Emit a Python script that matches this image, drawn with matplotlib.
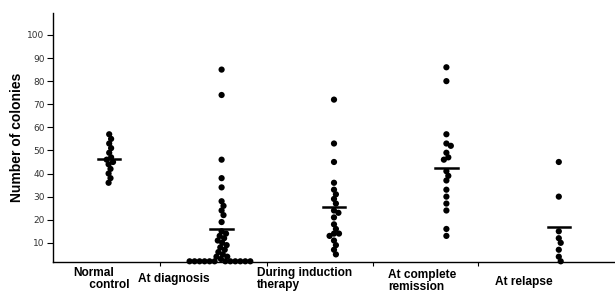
import numpy as np
import matplotlib
matplotlib.use("Agg")
import matplotlib.pyplot as plt

# values (Number of colonies)
normal = [57, 55, 53, 51, 49, 47, 46, 45, 44, 42, 40, 38, 36]
diagnosis = [85, 74, 46, 38, 34, 28, 26, 24, 22, 19, 15, 14, 13, 12, 11, 10, 9, 8, 7, 6, 5, 4, 4, 3,
             2, 2, 2, 2, 2, 2, 2, 2, 2, 2, 2, 2]
induction = [72, 53, 45, 36, 33, 31, 29, 27, 24, 23, 21, 18, 16, 14, 14, 13, 11, 9, 7, 5]
remission = [86, 80, 57, 53, 52, 49, 47, 46, 41, 39, 37, 33, 30, 27, 24, 16, 13]
relapse = [45, 30, 15, 12, 10, 7, 4, 2]

groups = [normal, diagnosis, induction, remission, relapse]
means = [46.5, 16, 25.5, 42.5, 17]
labels = ["Normal\n     control", "At diagnosis", "During induction\ntherapy",
          "At complete\nremission", "At relapse"]
yticks = [10, 20, 30, 40, 50, 60, 70, 80, 90, 100]


def swarm(values, xscale, yscale, d=5.0):
    # simple beeswarm in pixel space, returns x offsets in data units
    placed = []
    offs = []
    for v in values:
        y = v * yscale
        cands = [0.0]
        for (px, py) in placed:
            dy = abs(py - y)
            if dy < d:
                dx = np.sqrt(d * d - dy * dy)
                cands += [px + dx, px - dx]
        cands.sort(key=abs)
        for c in cands:
            ok = all((c - px) ** 2 + (y - py) ** 2 >= d * d - 1e-6 for (px, py) in placed)
            if ok:
                break
        placed.append((c, y))
        offs.append(c / xscale)
    return offs


fig = plt.figure(figsize=(6.15, 3.06), dpi=100)
ax = fig.add_axes([53 / 615, 1 - 262 / 306, 1 - 53 / 615, (262 - 13) / 306])
ax.set_xlim(0.5, 5.5)
ax.set_ylim(1.7, 109.5)

# pixels per data unit
xscale = 112.5
yscale = 249 / (109.5 - 1.7)

for i, vals in enumerate(groups):
    xs = [i + 1 + o for o in swarm(vals, xscale, yscale)]
    ax.scatter(xs, vals, s=20, color="black", edgecolors="none", clip_on=False, zorder=3)
    ax.plot([i + 1 - 0.1, i + 1 + 0.1], [means[i], means[i]], color="black", lw=1.8, zorder=4)

ax.spines["top"].set_visible(False)
ax.spines["right"].set_visible(False)
ax.spines["left"].set_linewidth(1)
ax.spines["bottom"].set_linewidth(1)

ax.set_yticks(yticks)
ax.set_yticklabels([str(t) for t in yticks])
ax.tick_params(axis="y", length=4, width=0.8, labelsize=6.5, labelcolor="#333333", pad=2)
ax.set_xticks([1.45, 2.40, 3.35, 4.28])
ax.set_xticklabels([])
ax.tick_params(axis="x", length=3, width=0.8)

ax.set_ylabel("Number of colonies", fontsize=10, fontweight="bold", family="Liberation Sans")
ax.yaxis.set_label_coords(-0.052, 0.5)

# category labels below the axis (pixel positions of the reference)
label_pos = [(73, 267), (138, 273), (257, 267), (388, 269), (495, 276)]
for (px, py), lab in zip(label_pos, labels):
    fig.text(px / 615, 1 - py / 306, lab, ha="left", va="top", fontsize=8.6,
             fontweight="bold", family="Liberation Sans", linespacing=1.0)

fig.savefig("out.png", dpi=100)
